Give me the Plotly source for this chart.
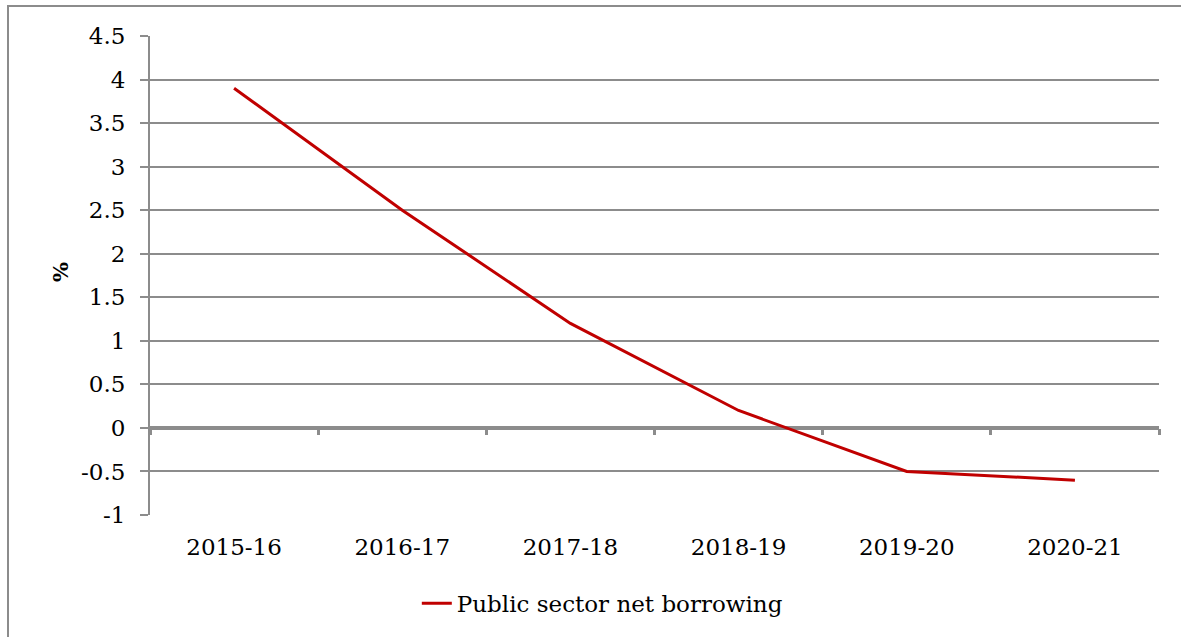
import plotly.graph_objects as go

# Fiscal years and public sector net borrowing (% of GDP)
years = ["2015-16", "2016-17", "2017-18", "2018-19", "2019-20", "2020-21"]
psnb = [3.9, 2.5, 1.2, 0.2, -0.5, -0.6]
series_name = "Public sector net borrowing"

y_ticks = [-1, -0.5, 0, 0.5, 1, 1.5, 2, 2.5, 3, 3.5, 4, 4.5]
y_labels = [f"{v:g}" for v in y_ticks]   # plain hyphen for negatives

W, H = 1181, 637
L, R, T, B = 150, 22, 36, 122
PW, PH = W - L - R, H - T - B
FONT = "DejaVu Serif"
GRID = "#8c8c8c"
RED = "#c00000"

fig = go.Figure()

fig.add_trace(go.Scatter(
    x=years, y=psnb, mode="lines", name=series_name,
    line=dict(color=RED, width=3), hoverinfo="x+y",
))

# companion trace so the tick axis sitting on the zero line gets rendered
fig.add_trace(go.Scatter(
    x=years, y=psnb, mode="lines", xaxis="x2", showlegend=False,
    line=dict(color="rgba(0,0,0,0)", width=0), hoverinfo="skip",
))

y_min, y_max = y_ticks[0], y_ticks[-1]
zero_pos = (0 - y_min) / (y_max - y_min)

fig.update_layout(
    width=W, height=H,
    margin=dict(l=L, r=R, t=T, b=B),
    paper_bgcolor="white", plot_bgcolor="white",
    font=dict(family=FONT, size=23, color="#000000"),
    showlegend=True,
    legend=dict(
        orientation="h", xref="container", yref="container",
        x=0.51, y=0.053, xanchor="center", yanchor="middle",
        font=dict(family=FONT, size=23, color="#000000"),
        bgcolor="rgba(0,0,0,0)",
    ),
    xaxis=dict(
        type="category", categoryorder="array", categoryarray=years,
        showgrid=False, zeroline=False, showline=False, ticks="",
        ticklabelstandoff=16,
        range=[-0.5, len(years) - 0.5],
    ),
    xaxis2=dict(
        type="category", categoryorder="array", categoryarray=years,
        overlaying="x", matches="x", anchor="free", position=zero_pos,
        side="bottom", showgrid=False, zeroline=False, showline=False,
        ticks="outside", tickson="boundaries", ticklen=6, tickwidth=3,
        tickcolor=GRID, showticklabels=False,
    ),
    yaxis=dict(
        range=[y_min, y_max], tickmode="array",
        tickvals=y_ticks, ticktext=y_labels,
        showgrid=True, gridcolor=GRID, gridwidth=2,
        zeroline=True, zerolinecolor=GRID, zerolinewidth=4,
        showline=True, linecolor=GRID, linewidth=2,
        ticks="outside", ticklen=8, tickwidth=2, tickcolor=GRID,
        ticklabelstandoff=10,
    ),
    annotations=[
        dict(text="<b>%</b>", xref="paper", yref="paper",
             x=(60 - L) / PW, y=(H - B - 272) / PH,
             xanchor="center", yanchor="middle", textangle=-90,
             showarrow=False, font=dict(family=FONT, size=21, color="#000000")),
    ],
    shapes=[
        # chart frame (left and top edges)
        dict(type="rect", xref="paper", yref="paper",
             x0=(8 - L) / PW, x1=1.2,
             y0=-0.5, y1=(H - B - 6) / PH,
             line=dict(color=GRID, width=2), fillcolor="rgba(0,0,0,0)",
             layer="below"),
    ],
)

fig.write_html("out.html")
